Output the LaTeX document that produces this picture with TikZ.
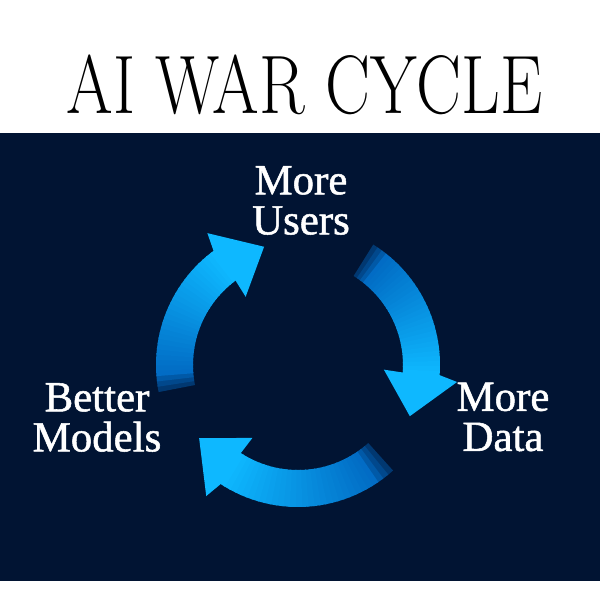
\documentclass[tikz,border=0pt]{standalone}
\usepackage{fontspec}
\usepackage{graphicx}
\newfontfamily\labelfont[FakeBold=1.2]{Liberation Serif}
\definecolor{navybg}{RGB}{1,20,51}
\definecolor{arrowhi}{RGB}{14,184,255}
\definecolor{arrowlo}{RGB}{0,100,190}

\begin{document}
\begin{tikzpicture}[x=0.025cm, y=0.025cm,
    cyclelabel/.style={text=white, font=\labelfont\fontsize{30.5}{28.5}\selectfont, align=center, inner sep=0pt},
    heading/.style={text=black, inner sep=0pt}]
    \useasboundingbox (0,0) rectangle (600,600);
    \fill[white] (0,0) rectangle (600,600);
    \fill[navybg] (0,19) rectangle (600,467);

    \node[heading] (title) at (304.5,515) {\scalebox{0.81}[1]{\fontsize{59}{60}\selectfont AI WAR CYCLE}};

    \coordinate (hub) at (298,235);

    \foreach \tail/\stop in {191/126, 58/-4.6, -48/-123.5} {
        \foreach \i in {0,...,29} {
            \pgfmathsetmacro{\a}{\tail+(\stop-\tail)*\i/30}
            \pgfmathsetmacro{\b}{\tail+(\stop-\tail)*(\i+1.3)/30}
            \pgfmathtruncatemacro{\q}{100*\i/29}
            \pgfmathtruncatemacro{\p}{min(100,45+55*\i/3)}
            \fill[arrowhi!\q!arrowlo!\p!navybg, shift={(hub)}]
                (\a:105) -- (\a:142) arc[start angle=\a, end angle=\b, radius=142]
                -- (\b:105) arc[start angle=\b, end angle=\a, radius=105] -- cycle;
        }
        \fill[arrowhi, shift={(hub)}] (\stop+0.5:105) -- (\stop+1.5:86) -- (\stop-20:123)
            -- (\stop-1.5:160) -- (\stop+0.5:142) -- cycle;
    }

    \node[cyclelabel] (users) at (301,399.5) {More\\Users};
    \node[cyclelabel] (data) at (503,183) {More\\Data};
    \node[cyclelabel] (models) at (97,182.5) {Better\\Models};
\end{tikzpicture}
\end{document}
